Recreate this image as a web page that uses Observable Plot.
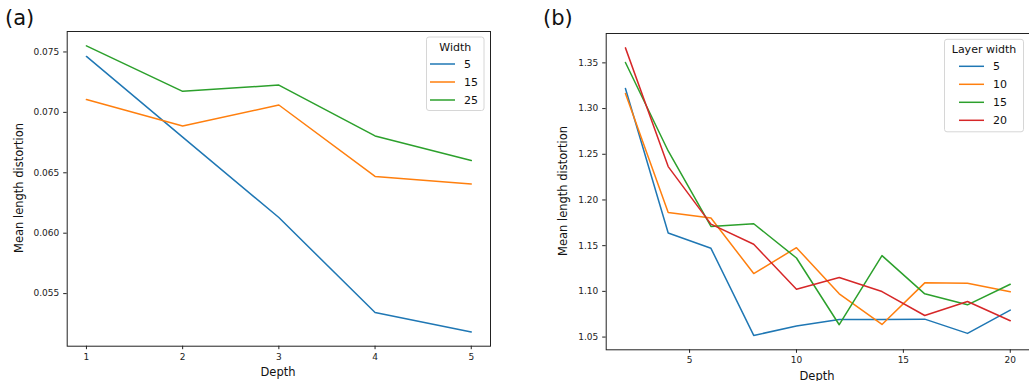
<!DOCTYPE html>
<html><head><meta charset="utf-8">
<script src="https://cdn.jsdelivr.net/npm/d3@7"></script>
<script src="https://cdn.jsdelivr.net/npm/@observablehq/plot@0.6"></script>
<style>
body{margin:0;background:#fff;width:1029px;height:381px;overflow:hidden;position:relative;font-family:"DejaVu Sans",sans-serif;}
.panel{position:absolute;top:0;}
</style></head><body>
<div id="a" class="panel" style="left:0"></div>
<div id="b" class="panel" style="left:515px"></div>
<script>
// ---- Panel (a) data ----
const depthA = [1, 2, 3, 4, 5];
const widthsA = ["5", "15", "25"];
const distA_5  = [0.07463, 0.06795, 0.06130, 0.05343, 0.05183];
const distA_15 = [0.07106, 0.06888, 0.07061, 0.06470, 0.06407];
const distA_25 = [0.07551, 0.07174, 0.07226, 0.06805, 0.06602];
const ticksAx = [1, 2, 3, 4, 5];
const ticksAy = [0.055, 0.060, 0.065, 0.070, 0.075];

// ---- Panel (b) data ----
const depthB = [2, 4, 6, 8, 10, 12, 14, 16, 18, 20];
const widthsB = ["5", "10", "15", "20"];
const distB_5  = [1.3220, 1.1638, 1.1471, 1.0518, 1.0620, 1.0693, 1.0693, 1.0696, 1.0540, 1.0795];
const distB_10 = [1.3165, 1.1864, 1.1802, 1.1195, 1.1478, 1.0973, 1.0638, 1.1093, 1.1089, 1.0995];
const distB_15 = [1.3504, 1.2536, 1.1711, 1.1740, 1.1365, 1.0635, 1.1391, 1.0973, 1.0853, 1.1078];
const distB_20 = [1.3664, 1.2365, 1.1736, 1.1515, 1.1024, 1.1151, 1.0998, 1.0736, 1.0889, 1.0678];
const ticksBx = [5, 10, 15, 20];
const ticksBy = [1.05, 1.10, 1.15, 1.20, 1.25, 1.30, 1.35];

const palette = ["#1f77b4", "#ff7f0e", "#2ca02c", "#d62728"];

function tidy(xs, names, series) {
  const rows = [];
  names.forEach((n, i) => xs.forEach((x, j) => rows.push({x, y: series[i][j], s: n})));
  return rows;
}
const dataA = tidy(depthA, widthsA, [distA_5, distA_15, distA_25]);
const dataB = tidy(depthB, widthsB, [distB_5, distB_10, distB_15, distB_20]);

function pad(ext, f = 0.05) { const d = ext[1] - ext[0]; return [ext[0] - d * f, ext[1] + d * f]; }

function panel(cfg) {
  const svg = Plot.plot({
    width: cfg.width, height: 381,
    marginLeft: cfg.ml, marginRight: cfg.mr, marginTop: cfg.mt, marginBottom: cfg.mb,
    style: {fontFamily: "DejaVu Sans, sans-serif", fontSize: "9px", color: "#222", background: "transparent", overflow: "visible"},
    x: {domain: pad(d3.extent(cfg.data, d => d.x))},
    y: {domain: pad(d3.extent(cfg.data, d => d.y))},
    color: {domain: cfg.names, range: palette.slice(0, cfg.names.length)},
    marks: [
      Plot.axisX({ticks: cfg.xt, tickFormat: d3.format("d"), tickSize: 3.5, tickPadding: 3.5, label: null, stroke: "#222"}),
      Plot.axisY({ticks: cfg.yt, tickFormat: d3.format(cfg.yf), tickSize: 3.5, tickPadding: 4.5, label: null, stroke: "#222"}),
      Plot.line(cfg.data, {x: "x", y: "y", stroke: "s", z: "s", strokeWidth: 1.5, strokeLinejoin: "round"}),
      Plot.frame({stroke: "#222", strokeWidth: 1})
    ]
  });
  const g = d3.select(svg).append("g").attr("font-family", "DejaVu Sans, sans-serif").attr("fill", "#111");
  // panel letter
  g.append("text").attr("x", cfg.letter[0]).attr("y", cfg.letter[1]).attr("text-anchor", "start")
    .attr("font-size", 21).text(cfg.letterText);
  // x label
  g.append("text").attr("x", cfg.xl[0]).attr("y", cfg.xl[1]).attr("text-anchor", "middle").attr("font-size", 11.5).text("Depth");
  // y label
  g.append("text").attr("transform", `translate(${cfg.yl[0]},${cfg.yl[1]}) rotate(-90)`)
    .attr("text-anchor", "middle").attr("font-size", 11.5).text("Mean length distortion");
  // legend
  const L = cfg.legend;
  const lg = g.append("g");
  lg.append("rect").attr("x", L.x).attr("y", L.y).attr("width", L.w).attr("height", L.h)
    .attr("rx", 2.5).attr("fill", "white").attr("fill-opacity", 0.8).attr("stroke", "#d6d6d6");
  lg.append("text").attr("x", L.x + L.w / 2).attr("y", L.y + 13.5).attr("text-anchor", "middle")
    .attr("font-size", 11).text(L.title);
  cfg.names.forEach((n, i) => {
    const yy = L.row0 + i * 18;
    lg.append("line").attr("x1", L.lx).attr("x2", L.lx + 25).attr("y1", yy).attr("y2", yy)
      .attr("stroke", palette[i]).attr("stroke-width", 1.5);
    lg.append("text").attr("x", L.lx + 34).attr("y", yy + 4).attr("text-anchor", "start")
      .attr("font-size", 11).text(n);
  });
  return svg;
}

document.getElementById("a").append(panel({
  width: 515, ml: 66.7, mr: 25, mt: 31, mb: 35.3,
  data: dataA, names: widthsA, xt: ticksAx, yt: ticksAy, yf: ".3f",
  letter: [5, 25], letterText: "(a)",
  xl: [278, 376], yl: [23, 188],
  legend: {x: 426.5, y: 37, w: 57.5, h: 73.5, title: "Width", lx: 430, row0: 64}
}));

document.getElementById("b").append(panel({
  width: 514, ml: 90.7, mr: 0, mt: 33, mb: 31.7,
  data: dataB, names: widthsB, xt: ticksBx, yt: ticksBy, yf: ".2f",
  letter: [28, 25], letterText: "(b)",
  xl: [302, 380], yl: [52, 191],
  legend: {x: 429.5, y: 39.3, w: 79, h: 92.5, title: "Layer width", lx: 444, row0: 66.3}
}));
</script>
</body></html>
